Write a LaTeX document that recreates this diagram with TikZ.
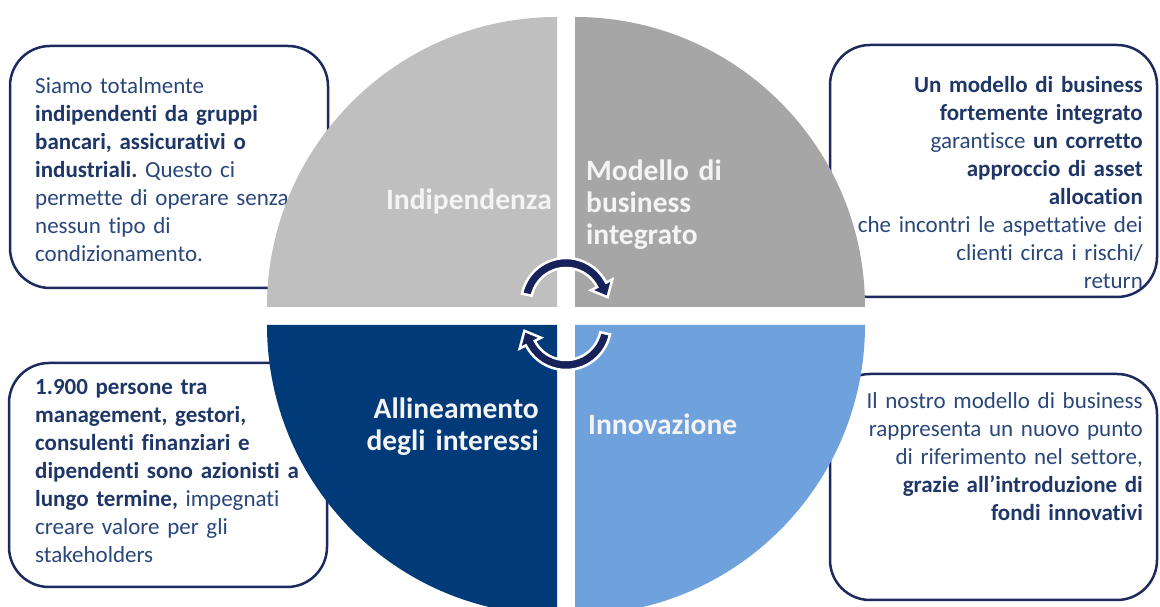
\documentclass[tikz,border=0pt]{standalone}
\usepackage{fontspec}
\setmainfont{Carlito}[Ligatures={NoCommon}]
\definecolor{qTL}{HTML}{BFBFBF}
\definecolor{qTR}{HTML}{A6A6A6}
\definecolor{qBL}{HTML}{003A78}
\definecolor{qBR}{HTML}{6FA1DC}
\definecolor{boxline}{HTML}{1C2A5E}
\definecolor{txtb}{HTML}{1F3766}
\definecolor{txtn}{HTML}{2A477A}
\definecolor{arrowc}{HTML}{17215A}
\definecolor{lbl}{HTML}{F4F4F4}
\newcommand{\hb}[1]{{\bfseries\color{txtb}#1}}
\frenchspacing
\tikzset{
  infobox/.style={draw=boxline, line width=2.5pt, fill=white, rounded corners=40pt},
  boxtext/.style={inner sep=0pt, font=\fontsize{23}{28}\selectfont, text=txtn, text width=330pt},
  qlabel/.style={inner sep=0pt, font=\fontsize{29.5}{32}\selectfont\bfseries, text=lbl},
  cyclearrow/.style={fill=arrowc, draw=white, line width=2.5pt, line join=miter}
}
\begin{document}
\begin{tikzpicture}[x=1pt,y=1pt]
\useasboundingbox (0,0) rectangle (1160,607);
\fill[white] (0,0) rectangle (1160,607);
\clip (0,0) rectangle (1160,607);

% text boxes
\draw[infobox] (10,319) rectangle (328,561);
\draw[infobox] (830,310) rectangle (1157,562);
\draw[infobox] (9,20) rectangle (327,244);
\draw[infobox] (830,7) rectangle (1157,233);

\node[boxtext, align=left, anchor=north west] (tl) at (35,533.6) {\strut Siamo totalmente\\
\hb{indipendenti da gruppi}\\
\hb{bancari, assicurativi o}\\
\hb{industriali.} Questo ci\\
permette di operare senza\\
nessun tipo di\\
condizionamento.};

\node[boxtext, align=right, anchor=north east] (tr) at (1143,534.6) {\strut\hb{Un modello di business}\\
\hb{fortemente integrato}\\
garantisce \hb{un corretto}\\
\hb{approccio di asset}\\
\hb{allocation}\\
che incontri le aspettative dei\\
clienti circa i rischi/\\
return};

\node[boxtext, align=left, anchor=north west] (bl) at (35,232.6) {\strut\hb{1.900 persone tra}\\
\hb{management, gestori,}\\
\hb{consulenti finanziari e}\\
\hb{dipendenti sono azionisti a}\\
\hb{lungo termine,} impegnati\\
creare valore per gli\\
stakeholders};

\node[boxtext, align=right, anchor=north east] (br) at (1143,218.6) {\strut Il nostro modello di business\\
rappresenta un nuovo punto\\
di riferimento nel settore,\\
\hb{grazie all’introduzione di}\\
\hb{fondi innovativi}};

% quadrants
\fill[qTL] (557,300) -- ++(180:290pt) arc[start angle=180,end angle=90,radius=290pt] -- cycle;
\fill[qTR] (575,300) -- ++(0:290pt) arc[start angle=0,end angle=90,radius=290pt] -- cycle;
\fill[qBL] (557,282) -- ++(180:290pt) arc[start angle=180,end angle=270,radius=290pt] -- cycle;
\fill[qBR] (575,282) -- ++(0:290pt) arc[start angle=0,end angle=-90,radius=290pt] -- cycle;

% labels
\node[qlabel, anchor=base east] (ind) at (552,397) {Indipendenza};
\node[qlabel, text width=250pt, align=left, anchor=north west] (mod) at (586,449.4) {\strut Modello di\\business\\integrato};
\node[qlabel, text width=250pt, align=right, anchor=north east] (all) at (539,211.4) {\strut Allineamento\\degli interessi};
\node[qlabel, anchor=base west] (inn) at (588,172) {Innovazione};

% cycle arrows
\begin{scope}[shift={(566,304)}]
\filldraw[cyclearrow] (168:45pt) arc[start angle=168,end angle=27,radius=45pt] -- (27:52pt) -- (8:42pt) -- (27:28pt) -- (27:35pt) arc[start angle=27,end angle=168,radius=35pt] -- cycle;
\end{scope}
\begin{scope}[shift={(566,282)}]
\filldraw[cyclearrow] (348:45pt) arc[start angle=348,end angle=207,radius=45pt] -- (207:52pt) -- (188:42pt) -- (207:28pt) -- (207:35pt) arc[start angle=207,end angle=348,radius=35pt] -- cycle;
\end{scope}
\end{tikzpicture}
\end{document}
